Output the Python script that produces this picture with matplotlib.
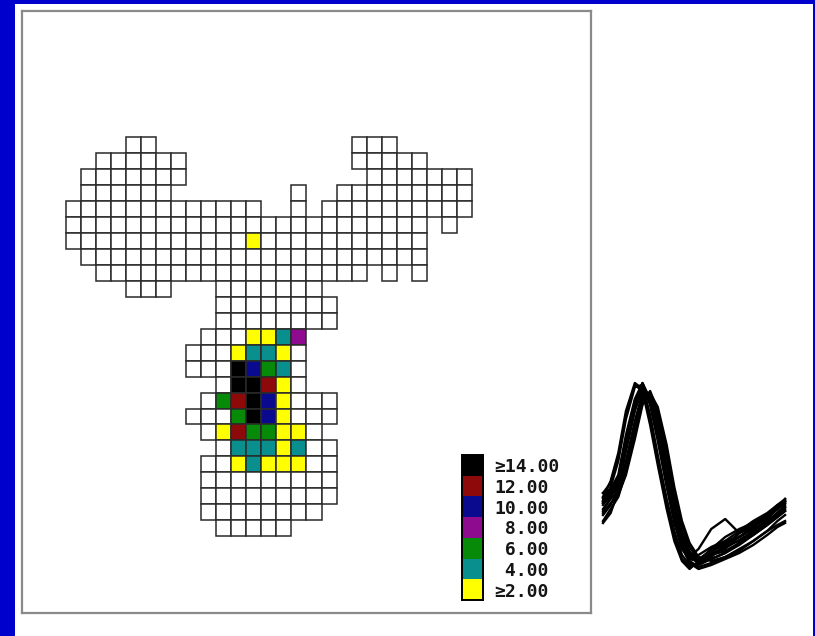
import numpy as np
import matplotlib
matplotlib.use("Agg")
import matplotlib.pyplot as plt
from matplotlib.colors import ListedColormap, BoundaryNorm
from matplotlib.patches import Rectangle

W, H = 815, 636

# recording sites per grid row, as runs of (first col, last col)
site_runs = [
    [(4, 5), (19, 21)],
    [(2, 7), (19, 23)],
    [(1, 7), (20, 26)],
    [(1, 6), (15, 15), (18, 26)],
    [(0, 12), (15, 15), (17, 26)],
    [(0, 23), (25, 25)],
    [(0, 23)],
    [(1, 23)],
    [(2, 19), (21, 21), (23, 23)],
    [(4, 6), (10, 16)],
    [(10, 17)],
    [(10, 17)],
    [(9, 15)],
    [(8, 15)],
    [(8, 15)],
    [(10, 15)],
    [(9, 17)],
    [(8, 17)],
    [(9, 16)],
    [(10, 17)],
    [(9, 17)],
    [(9, 17)],
    [(9, 17)],
    [(9, 16)],
    [(10, 14)],
]

# sites above threshold (row, col, value)
hot_rows = [6, 12, 12, 12, 12, 13, 13, 13, 13, 14, 14, 14, 14, 15, 15, 15, 15,
            16, 16, 16, 16, 16, 17, 17, 17, 17, 18, 18, 18, 18, 18, 18,
            19, 19, 19, 19, 19, 20, 20, 20, 20, 20]
hot_cols = [12, 12, 13, 14, 15, 11, 12, 13, 14, 11, 12, 13, 14, 11, 12, 13, 14,
            10, 11, 12, 13, 14, 11, 12, 13, 14, 10, 11, 12, 13, 14, 15,
            11, 12, 13, 14, 15, 11, 12, 13, 14, 15]
hot_values = [3, 3, 3, 5, 9, 3, 5, 5, 3, 15, 11, 7, 5, 15, 15, 13, 3,
              7, 13, 15, 11, 3, 7, 15, 11, 3, 3, 13, 7, 7, 3, 3,
              5, 5, 5, 3, 5, 3, 5, 3, 3, 3]

level_labels = ["\u226514.00", "12.00", "10.00", " 8.00", " 6.00", " 4.00", "\u22652.00"]
legend_values = [15, 13, 11, 9, 7, 5, 3]
level_bounds = [2, 4, 6, 8, 10, 12, 14, 100]
level_colors = ["#ffff00", "#0a8f8f", "#078a07", "#8e0a8e", "#0a0a8e", "#8e0a0a", "#000000"]

# superimposed spike waveforms (ms, uV)
t_ms = [0.00, 0.06, 0.12, 0.18, 0.25, 0.31, 0.37, 0.43, 0.50, 0.56,
        0.62, 0.68, 0.75, 0.85, 0.96, 1.07, 1.18, 1.29, 1.37, 1.43]
trace_e1 = [4, 12, 26, 47, 61, 58, 42, 22, 0, -16, -27, -31, -29, -25, -21, -16, -11, -6, -2, 1]
trace_e2 = [2, 9, 22, 43, 59, 60, 45, 25, 3, -13, -25, -30, -30, -27, -24, -20, -15, -10, -6, -3]
trace_e3 = [6, 11, 24, 45, 60, 57, 40, 20, -2, -18, -28, -32, -28, -22, -16, -12, -9, -5, -1, 2]
trace_m1 = [1, 6.5, 12.5, 31.5, 50.5, 60.5, 52.5, 36, 13, -5.5, -20, -27, -27.5, -24, -21.5, -17.5, -13, -8.5, -4, -1]
trace_m2 = [0, 5, 11, 28, 48, 59, 54, 38, 16, -3, -18, -26, -29, -26, -20, -14, -10, -6, -2, 1]
trace_m3 = [4, 8, 15, 35, 53, 61, 50, 32, 9, -9, -22, -27, -25, -21, -18, -16, -12, -8, -5, -2]
trace_m4 = [-5, 0, 8, 27, 47, 58, 53, 39, 17, -2, -17, -25, -27, -23, -20, -18, -14, -9, -4, 0]
trace_m5 = [2, 7, 14, 33, 52, 60, 51, 34, 11, -7, -21, -28, -31, -29, -26, -22, -18, -13, -10, -8]
trace_m6 = [1, 6, 12, 30, 49, 60, 52, 36, 14, -4, -19, -26, -22, -12, -7, -14, -11, -6, -1, 2]
trace_m7 = [-3, 4, 10, 29, 49, 59, 53, 37, 15, -4, -19, -27, -28, -22, -19, -16, -11, -5, 0, 3]
trace_m8 = [6, 8, 13, 32, 51, 59, 51, 35, 12, -6, -20, -26, -27, -24, -22, -14, -9, -8, -4, -1]
trace_m9 = [-9, -4, 7, 30, 50, 61, 53, 36, 13, -5, -21, -29, -32, -30, -27, -24, -20, -15, -11, -9]
trace_l1 = [-2, 3, 7, 22, 42, 56, 55, 42, 20, 0, -15, -24, -28, -25, -23, -19, -15, -10, -6, -3]
trace_l2 = [-8, -2, 4, 17, 36, 52, 57, 47, 27, 6, -10, -21, -27, -27, -24, -19, -13, -7, -2, 3]
trace_l3 = [-4, 1, 5, 15, 33, 50, 56, 49, 30, 9, -8, -19, -26, -28, -26, -23, -18, -13, -8, -5]
trace_l4 = [3, 5, 8, 19, 38, 54, 56, 45, 24, 3, -13, -23, -28, -23, -18, -13, -8, -4, 0, 2]
traces = [trace_e1, trace_e2, trace_e3, trace_m1, trace_m2, trace_m3, trace_m4,
          trace_m5, trace_m6, trace_m7, trace_m8, trace_m9,
          trace_l1, trace_l2, trace_l3, trace_l4]

cmap = ListedColormap(level_colors)
norm = BoundaryNorm(level_bounds, cmap.N)


def px_box(x0, y0, x1, y1):
    """pixel box (top-left origin) -> figure fraction rect"""
    return [x0 / W, (H - y1) / H, (x1 - x0) / W, (y1 - y0) / H]


fig = plt.figure(figsize=(W / 100, H / 100), dpi=100, facecolor="#0000cc")
fig.patches.append(Rectangle((15 / W, 0), (813 - 15) / W, (H - 4) / H,
                             transform=fig.transFigure, facecolor="white",
                             edgecolor="none", zorder=-10))

# electrode map
ax = fig.add_axes(px_box(22, 11, 591, 613))
ax.set_xlim(-2.93, 34.93)
ax.set_ylim(29.82, -7.92)
ax.set_xticks([])
ax.set_yticks([])
for s in ax.spines.values():
    s.set_color("#8a8a8a")
    s.set_linewidth(1.6)

hot = {(r, c): v for r, c, v in zip(hot_rows, hot_cols, hot_values)}
for r, runs in enumerate(site_runs):
    for c0, c1 in runs:
        for c in range(c0, c1 + 1):
            v = hot.get((r, c))
            fc = "white" if v is None else cmap(norm(v))
            ax.add_patch(Rectangle((c, r), 1, 1, facecolor=fc,
                                   edgecolor="#2a2a2a", linewidth=1.1))

# level legend
lax = fig.add_axes(px_box(461.7, 455, 483.3, 600))
lax.imshow(np.array(legend_values).reshape(-1, 1), cmap=cmap, norm=norm,
           extent=(0, 1, 0, len(legend_values)), aspect="auto",
           origin="upper", interpolation="nearest")
lax.set_xticks([])
lax.yaxis.tick_right()
lax.set_yticks(np.arange(len(legend_values))[::-1] + 0.5)
lax.set_yticklabels(level_labels, family=["DejaVu Sans Mono", "DejaVu Sans"],
                    fontweight="bold", fontsize=13, color="#151515")
lax.tick_params(axis="y", length=0, pad=8)
for s in lax.spines.values():
    s.set_color("black")
    s.set_linewidth(1.4)

# waveforms
wax = fig.add_axes(px_box(595, 370, 795, 580))
wax.patch.set_alpha(0)
wax.set_xlim(-0.063, 1.508)
wax.set_ylim(-37.5, 67.5)
wax.axis("off")
for tr in traces:
    wax.plot(t_ms, tr, color="black", linewidth=1.7, solid_joinstyle="round")

fig.savefig("out.png", dpi=100, facecolor=fig.get_facecolor())
